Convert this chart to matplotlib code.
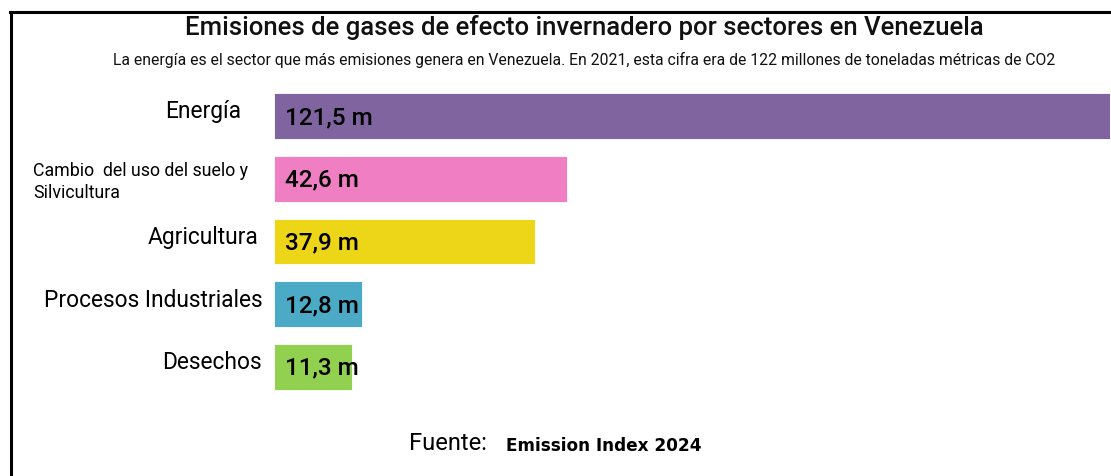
import matplotlib.pyplot as plt
from matplotlib.lines import Line2D

# Emisiones por sector (millones de toneladas de CO2), Venezuela
sectores = ["Energía", "Cambio  del uso del suelo y\nSilvicultura", "Agricultura",
            "Procesos Industriales", "Desechos"]
emisiones = [121.5, 42.6, 37.9, 12.8, 11.3]
colores = ["#7F64A0", "#F07EC3", "#EDD517", "#4BABC6", "#92D050"]

titulo = "Emisiones de gases de efecto invernadero por sectores en Venezuela"
subtitulo = ("La energía es el sector que más emisiones genera en Venezuela. "
             "En 2021, esta cifra era de 122 millones de toneladas métricas de CO2")
fuente = "Emission Index 2024"

FONT = ["Roboto", "DejaVu Sans"]
W, H = 1111, 476


def fx(px):
    return px / W


def fy(py):
    return 1 - py / H


fig = plt.figure(figsize=(W / 100, H / 100), dpi=100)

# marco: linea superior e izquierda
fig.add_artist(Line2D([fx(10), fx(W)], [fy(11.5), fy(11.5)], color="black", lw=2.2,
                      transform=fig.transFigure))
fig.add_artist(Line2D([fx(10.5), fx(10.5)], [fy(11.5), fy(H + 2)], color="black", lw=2.2,
                      transform=fig.transFigure))

fig.text(fx(584), fy(28), titulo, ha="center", va="center", fontsize=18.5,
         fontweight="medium", family=FONT, color="#111111")
fig.text(fx(584), fy(60), subtitulo, ha="center", va="center", fontsize=11.3,
         family=FONT, color="#111111")

ax = fig.add_axes([fx(274), fy(404.6), (1110 - 274) / W, (404.6 - 78.4) / H])
ypos = list(range(len(sectores)))
ax.barh(ypos, emisiones, height=0.73, color=colores, edgecolor="white", linewidth=0.6)
ax.set_xlim(0, max(emisiones))
ax.set_ylim(len(sectores) - 0.4, -0.6)
ax.axis("off")

for i, v in enumerate(emisiones):
    etiqueta = f"{v:.1f}".replace(".", ",") + " m"
    ax.annotate(etiqueta, xy=(0, i), xytext=(8, -1), textcoords="offset points",
                ha="left", va="center", fontsize=17.5, fontweight="medium",
                family=FONT, color="black")

# etiquetas de categoria
gaps = [24, None, 11, 8, 9]
for i, (s, g) in enumerate(zip(sectores, gaps)):
    if g is None:
        fig.text(fx(33), fy(182), s, ha="left", va="center", fontsize=12.8,
                 family=FONT, color="black", linespacing=1.35)
    else:
        ax.annotate(s, xy=(0, i), xytext=(-g, 3), textcoords="offset points",
                    ha="right", va="center", fontsize=16.4, family=FONT, color="black")

fig.text(fx(409), fy(443), "Fuente:", ha="left", va="center", fontsize=17,
         family=FONT, color="black")
fig.text(fx(506), fy(446), fuente, ha="left", va="center", fontsize=12.2,
         fontweight="bold", family=["DejaVu Sans"], color="black")

fig.savefig("out.png", dpi=100, facecolor="white")
